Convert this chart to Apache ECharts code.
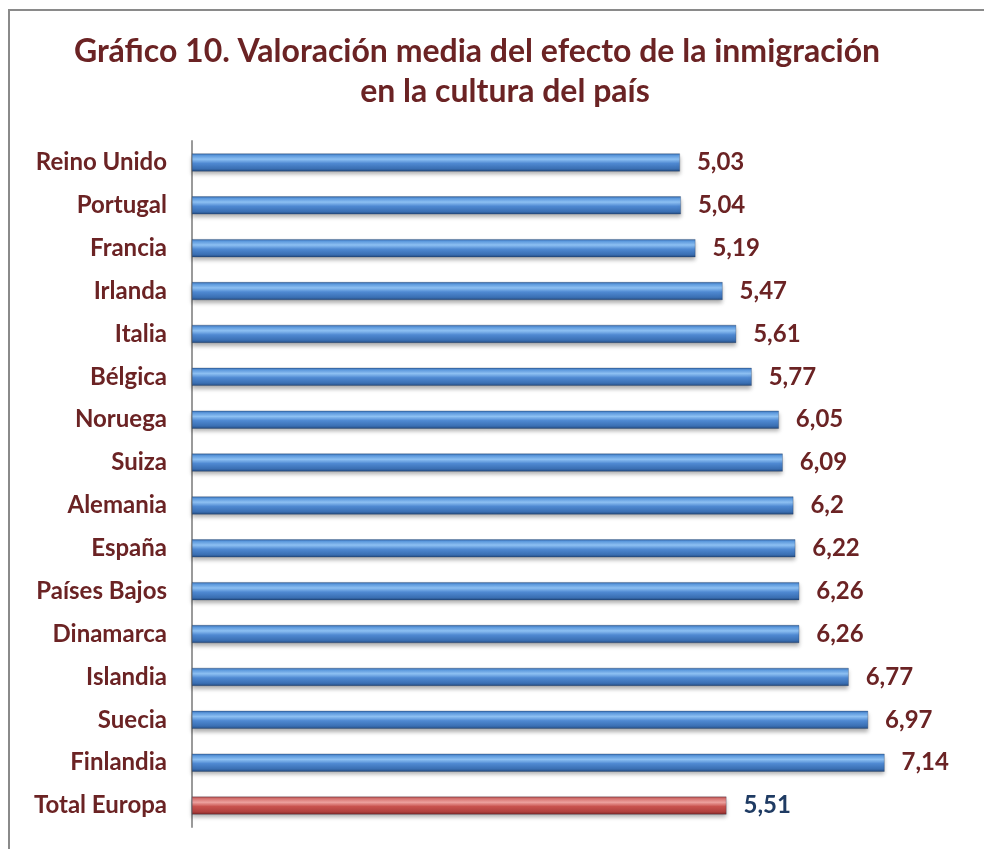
<!DOCTYPE html>
<html>
<head>
<meta charset="utf-8">
<script src="https://cdn.jsdelivr.net/npm/echarts@6/dist/echarts.min.js"></script>
<style>
  html, body { margin: 0; padding: 0; background: #fff; }
  #chart { width: 984px; height: 849px; }
</style>
</head>
<body>
<div id="chart"></div>
<script>
// datos del gráfico
const paises = ['Reino Unido', 'Portugal', 'Francia', 'Irlanda', 'Italia', 'Bélgica', 'Noruega', 'Suiza',
  'Alemania', 'España', 'Países Bajos', 'Dinamarca', 'Islandia', 'Suecia', 'Finlandia', 'Total Europa']
const valores = [5.03, 5.04, 5.19, 5.47, 5.61, 5.77, 6.05, 6.09, 6.2, 6.22, 6.26, 6.26, 6.77, 6.97, 7.14, 5.51]
const totalNombre = 'Total Europa'
const tituloLineas = ['Gráfico 10. Valoración media del efecto de la inmigración', 'en la cultura del país']

const granate = '#6b2324'
const azulOscuro = '#1f3b63'

const gradAzul = new echarts.graphic.LinearGradient(0, 0, 0, 1, [
  { offset: 0, color: '#3367a8' },
  { offset: 0.12, color: '#5e9be0' },
  { offset: 0.32, color: '#8fc2f4' },
  { offset: 0.55, color: '#4f89d2' },
  { offset: 0.85, color: '#3a6fb3' },
  { offset: 1, color: '#244a7e' }
])
const gradRojo = new echarts.graphic.LinearGradient(0, 0, 0, 1, [
  { offset: 0, color: '#a84442' },
  { offset: 0.12, color: '#d97472' },
  { offset: 0.32, color: '#eea3a0' },
  { offset: 0.55, color: '#c9534f' },
  { offset: 0.85, color: '#b0403d' },
  { offset: 1, color: '#7a2624' }
])

const myChart = echarts.init(document.getElementById('chart'))

const serieData = valores.map((v, i) => {
  const esTotal = paises[i] === totalNombre
  return {
    value: v,
    itemStyle: { color: esTotal ? gradRojo : gradAzul },
    label: { color: esTotal ? azulOscuro : granate }
  }
})

const estiloTitulo = {
  fontFamily: 'Lato',
  fontSize: 32,
  fontWeight: 'bold',
  color: granate
}

const option = {
  backgroundColor: '#fff',
  title: [
    { text: tituloLineas[0], left: 472, top: 31, textAlign: 'center', textStyle: estiloTitulo },
    { text: tituloLineas[1], left: 500, top: 71, textAlign: 'center', textStyle: estiloTitulo }
  ],
  graphic: [
    {
      type: 'rect',
      shape: { x: 9, y: 10, width: 1000, height: 900 },
      style: { fill: 'none', stroke: '#8a8a8a', lineWidth: 2 },
      silent: true
    }
  ],
  grid: {
    left: 192,
    right: 16,
    top: 141,
    bottom: 22
  },
  xAxis: {
    type: 'value',
    min: 0,
    max: 8,
    show: false
  },
  yAxis: {
    type: 'category',
    inverse: true,
    data: paises,
    axisLine: { lineStyle: { color: '#9a9a9a', width: 2 } },
    axisTick: { show: false },
    axisLabel: {
      color: granate,
      fontFamily: 'Lato',
      fontWeight: 'bold',
      fontSize: 24,
      margin: 25
    }
  },
  series: [
    {
      type: 'bar',
      data: serieData,
      barWidth: 18,
      itemStyle: {
        shadowColor: 'rgba(0,0,0,0.3)',
        shadowBlur: 4,
        shadowOffsetY: 3,
        borderColor: 'rgba(20,40,70,0.5)',
        borderWidth: 0.5
      },
      label: {
        show: true,
        position: 'right',
        distance: 17,
        fontFamily: 'Lato',
        fontWeight: 'bold',
        fontSize: 24,
        formatter: p => String(p.value).replace('.', ',')
      }
    }
  ]
}
option && myChart.setOption(option)
</script>
</body>
</html>
